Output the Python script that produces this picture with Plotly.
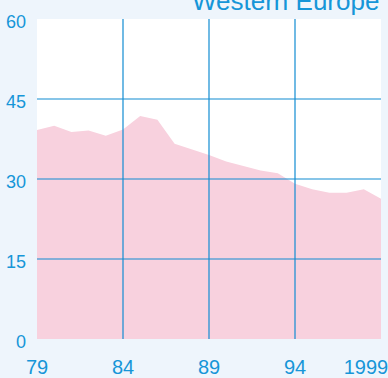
import plotly.graph_objects as go

# Share of total, Western Europe, 1979-1999
years = list(range(1979, 2000))
values = [39.2, 40.0, 38.8, 39.1, 38.1, 39.3, 41.8, 41.1, 36.6, 35.6, 34.5,
          33.3, 32.5, 31.6, 31.1, 29.1, 28.1, 27.4, 27.4, 28.1, 26.3]

x_tickvals = [1979, 1984, 1989, 1994]
x_ticktext = ["79", "84", "89", "94"]
x_end_tickvals = [1999]
x_end_ticktext = ["1999"]
y_tickvals = [0, 15, 30, 45, 60]
x_gridvals = [1984, 1989, 1994]
y_gridvals = [15, 30, 45]

title_text = "Western Europe"

BLUE = "#1696d8"
GRID = "#118cd2"
PINK = "#f8d1de"
BG = "#eef5fc"
FONT = "Liberation Sans, Arial, sans-serif"

fig = go.Figure()
fig.add_trace(go.Scatter(
    x=years, y=values, mode="lines", fill="tozeroy",
    fillcolor=PINK, line=dict(width=0, color=PINK),
    hoverinfo="x+y", showlegend=False,
))
# empty trace so the overlaid end-year axis is drawn
fig.add_trace(go.Scatter(
    x=[years[-1]], y=[values[-1]], xaxis="x2", mode="markers",
    marker=dict(opacity=0), hoverinfo="skip", showlegend=False,
))

shapes = []
for gx in x_gridvals:
    shapes.append(dict(type="line", xref="x", yref="paper", x0=gx, x1=gx,
                       y0=0, y1=1, line=dict(color=GRID, width=1.2), layer="above"))
for gy in y_gridvals:
    shapes.append(dict(type="line", xref="paper", yref="y", x0=0, x1=1,
                       y0=gy, y1=gy, line=dict(color=GRID, width=1.2), layer="above"))

axis_common = dict(
    range=[1979, 1999], showgrid=False, zeroline=False, showline=False,
    ticks="", automargin=False, ticklabeloverflow="allow",
    ticklabelstandoff=14, tickfont=dict(size=20, color=BLUE),
)

fig.update_layout(
    width=388, height=378,
    margin=dict(l=37, r=7, t=19, b=39, pad=0, autoexpand=False),
    paper_bgcolor=BG, plot_bgcolor="white",
    font=dict(family=FONT, color=BLUE, size=18),
    shapes=shapes,
    xaxis=dict(tickvals=x_tickvals, ticktext=x_ticktext, **axis_common),
    xaxis2=dict(overlaying="x", anchor="y", side="bottom",
                tickvals=x_end_tickvals, ticktext=x_end_ticktext,
                ticklabelshift=-15, **axis_common),
    yaxis=dict(range=[0, 60], tickvals=y_tickvals, showgrid=False,
               zeroline=False, showline=False, ticks="", automargin=False,
               ticklabeloverflow="allow", ticklabelstandoff=10,
               ticklabelshift=3, tickfont=dict(size=18, color=BLUE)),
    annotations=[dict(
        text=title_text, xref="paper", yref="paper", x=1.0, y=1.056,
        xanchor="right", yanchor="middle", showarrow=False,
        font=dict(family=FONT, size=26, color=BLUE),
    )],
)

fig.write_html("out.html")
